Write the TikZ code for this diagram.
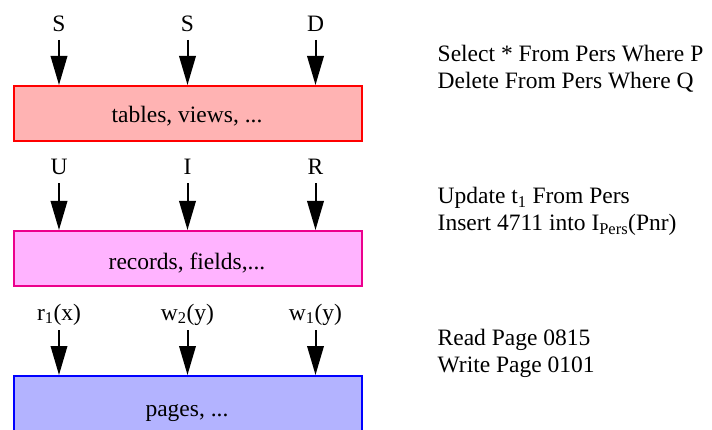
\documentclass[tikz,border=0pt]{standalone}
\usepackage{fontspec}
\setmainfont{Liberation Serif}
\usetikzlibrary{arrows.meta}

\definecolor{redfill}{HTML}{FFB3B3}
\definecolor{magfill}{HTML}{FFB3FF}
\definecolor{bluefill}{HTML}{B3B3FF}

\tikzset{
  layerbox/.style={draw, line width=2pt, minimum width=348pt, minimum height=55pt, inner sep=0pt},
  lbl/.style={anchor=base, inner sep=0pt, font=\fontsize{23.5}{28}\selectfont},
  cmd/.style={anchor=base west, inner sep=0pt, font=\fontsize{23.5}{28}\selectfont},
  arr/.style={line width=2pt, -{Triangle[width=16.5pt, length=29pt]}}
}

\begin{document}
\begin{tikzpicture}[x=1pt, y=-1pt]
  \useasboundingbox (0,0) rectangle (712,430);

  % layer boxes
  \node[layerbox, draw=red, fill=redfill] (tbl) at (188,113.5) {};
  \node[layerbox, draw=magenta, fill=magfill] (rec) at (188,258.5) {};
  \node[layerbox, draw=blue, fill=bluefill, minimum height=57pt] (pag) at (188,404.5) {};

  \node[lbl] (tbltxt) at (187,123) {tables, views, ...};
  \node[lbl] (rectxt) at (187,270) {records, fields,...};
  \node[lbl] (pagtxt) at (187,416.5) {pages, ...};

  % operations on the top layer
  \node[lbl] (o1) at (59,31.7) {S};
  \node[lbl] (o2) at (187.5,31.7) {S};
  \node[lbl] (o3) at (315.5,31.7) {D};
  \coordinate (a1) at (59,40);
  \coordinate (a2) at (187.5,40);
  \coordinate (a3) at (315.5,40);
  \draw[arr] (a1) -- (a1 |- tbl.north);
  \draw[arr] (a2) -- (a2 |- tbl.north);
  \draw[arr] (a3) -- (a3 |- tbl.north);

  % operations on the record layer
  \node[lbl] (o4) at (59,175) {U};
  \node[lbl] (o5) at (187.5,175) {I};
  \node[lbl] (o6) at (315.5,175) {R};
  \coordinate (b1) at (59,183.5);
  \coordinate (b2) at (187.5,183.5);
  \coordinate (b3) at (315.5,183.5);
  \draw[arr] (b1) -- (b1 |- rec.north);
  \draw[arr] (b2) -- (b2 |- rec.north);
  \draw[arr] (b3) -- (b3 |- rec.north);

  % operations on the page layer
  \node[lbl] (o7) at (59,320) {r\textsubscript{1}(x)};
  \node[lbl] (o8) at (187.5,320) {w\textsubscript{2}(y)};
  \node[lbl] (o9) at (315.5,320) {w\textsubscript{1}(y)};
  \coordinate (c1) at (59,330);
  \coordinate (c2) at (187.5,330);
  \coordinate (c3) at (315.5,330);
  \draw[arr] (c1) -- (c1 |- pag.north);
  \draw[arr] (c2) -- (c2 |- pag.north);
  \draw[arr] (c3) -- (c3 |- pag.north);

  % example statements
  \node[cmd] (q1) at (437.5,61.7) {Select * From Pers Where P};
  \node[cmd] (q2) at (437.5,89) {Delete From Pers Where Q};
  \node[cmd] (q3) at (437.5,204) {Update t\textsubscript{1} From Pers};
  \node[cmd] (q4) at (437.5,230.5) {Insert 4711 into I\textsubscript{Pers}(Pnr)};
  \node[cmd] (q5) at (437.5,345) {Read Page 0815};
  \node[cmd] (q6) at (437.5,372) {Write Page 0101};
\end{tikzpicture}
\end{document}
